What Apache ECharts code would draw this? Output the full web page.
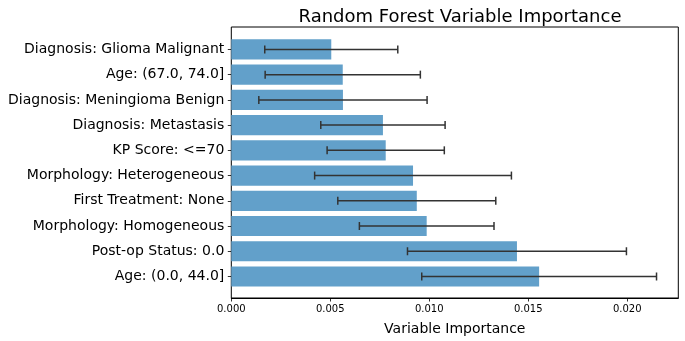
<!DOCTYPE html>
<html>
<head>
<meta charset="utf-8">
<script src="https://cdn.jsdelivr.net/npm/echarts@6/dist/echarts.min.js"></script>
<style>
  html, body { margin: 0; padding: 0; background: #fff; }
  #chart { width: 685px; height: 341px; }
</style>
</head>
<body>
<div id="chart"></div>
<script>
// variables, listed top to bottom
var features = [
    'Diagnosis: Glioma Malignant',
    'Age: (67.0, 74.0]',
    'Diagnosis: Meningioma Benign',
    'Diagnosis: Metastasis',
    'KP Score: <=70',
    'Morphology: Heterogeneous',
    'First Treatment: None',
    'Morphology: Homogeneous',
    'Post-op Status: 0.0',
    'Age: (0.0, 44.0]'
];
var importance = [0.00505, 0.00563, 0.00564, 0.00766, 0.0078, 0.00918, 0.00937, 0.00987, 0.01443, 0.01555];
var importanceStd = [0.00336, 0.00392, 0.00425, 0.00314, 0.00296, 0.00497, 0.00399, 0.0034, 0.00553, 0.00593];
var xTicks = [0, 0.005, 0.01, 0.015, 0.02];

var chart = echarts.init(document.getElementById('chart'), null, {renderer: 'canvas'});

var font = 'DejaVu Sans';
var xMax = 0.02258;

var errData = importance.map(function (v, i) {
    return [i, v - importanceStd[i], v + importanceStd[i]];
});

var option = {
    animation: false,
    backgroundColor: '#fff',
    title: {
        text: 'Random Forest Variable Importance',
        left: 455,
        top: 3,
        textAlign: 'center',
        textStyle: {fontFamily: font, fontSize: 18, fontWeight: 'normal', color: '#000'}
    },
    grid: [
        // data area (category bands match the bar spacing)
        {left: 231.3, right: 6.7, top: 36.8, height: 252.3},
        // frame with axes box
        {left: 231.3, right: 6.7, top: 27, height: 272, show: true,
         borderColor: '#000', borderWidth: 1, backgroundColor: 'transparent'}
    ],
    xAxis: [
        {gridIndex: 0, type: 'value', min: 0, max: xMax, show: false},
        {
            gridIndex: 1, type: 'value', min: 0, max: xMax, interval: 0.005,
            splitLine: {show: false},
            axisLine: {show: true, lineStyle: {color: '#000', width: 1}},
            axisTick: {show: true, length: 3.5, lineStyle: {color: '#000', width: 0.8}},
            axisLabel: {
                margin: 6, fontFamily: font, fontSize: 10, color: '#000',
                showMaxLabel: false,
                formatter: function (v) { return xTicks.indexOf(+v.toFixed(3)) >= 0 ? v.toFixed(3) : ''; }
            },
            name: 'Variable Importance',
            nameLocation: 'middle',
            nameGap: 24,
            nameTextStyle: {fontFamily: font, fontSize: 14, color: '#000'}
        }
    ],
    yAxis: [
        {
            gridIndex: 0, type: 'category', data: features, inverse: true,
            axisLine: {show: false},
            axisTick: {show: true, alignWithLabel: true, length: 3.5, lineStyle: {color: '#000', width: 0.8}},
            axisLabel: {margin: 7, fontFamily: font, fontSize: 14, color: '#000'},
            splitLine: {show: false}
        },
        {gridIndex: 1, type: 'value', show: false}
    ],
    series: [
        {
            type: 'bar',
            xAxisIndex: 0,
            yAxisIndex: 0,
            data: importance,
            barWidth: '80%',
            itemStyle: {color: '#62a0ca'},
            z: 2
        },
        {
            type: 'custom',
            xAxisIndex: 0,
            yAxisIndex: 0,
            data: errData,
            z: 3,
            renderItem: function (params, api) {
                var lo = api.coord([api.value(1), api.value(0)]);
                var hi = api.coord([api.value(2), api.value(0)]);
                var y = lo[1];
                var cap = 4;
                var style = {stroke: '#333', lineWidth: 1.5};
                return {
                    type: 'group',
                    children: [
                        {type: 'line', shape: {x1: lo[0], y1: y, x2: hi[0], y2: y}, style: style},
                        {type: 'line', shape: {x1: lo[0], y1: y - cap, x2: lo[0], y2: y + cap}, style: style},
                        {type: 'line', shape: {x1: hi[0], y1: y - cap, x2: hi[0], y2: y + cap}, style: style}
                    ]
                };
            }
        }
    ]
};

chart.setOption(option);
</script>
</body>
</html>
